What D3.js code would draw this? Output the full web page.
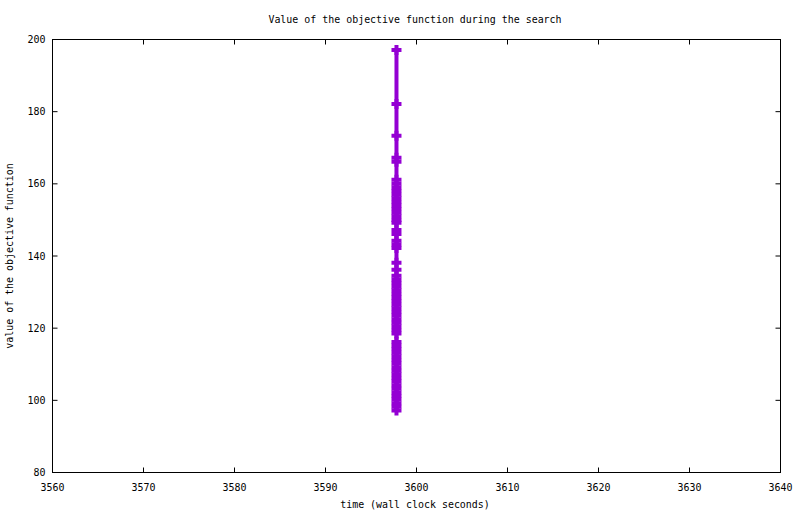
<!DOCTYPE html>
<html><head><meta charset="utf-8">
<script src="https://cdn.jsdelivr.net/npm/d3@7"></script>
<style>
body{margin:0;background:#fff}
text{font-family:"DejaVu Sans Mono",monospace;font-size:9.95px;fill:#000}
</style></head>
<body><svg id="c" width="800" height="514"></svg>
<script>
const title = "Value of the objective function during the search";
const xLabel = "time (wall clock seconds)";
const yLabel = "value of the objective function";
const xTicks = [3560,3570,3580,3590,3600,3610,3620,3630,3640];
const yTicks = [80,100,120,140,160,180,200];
const times = [3597.8,3597.8,3597.8,3597.8,3597.8,3597.8,3597.8,3597.8,3597.8,3597.8,
  3597.8,3597.8,3597.8,3597.8,3597.8,3597.8,3597.8,3597.8,3597.8,3597.8,
  3597.8,3597.8,3597.8,3597.8,3597.8,3597.8,3597.8,3597.8,3597.8,3597.8,
  3597.8,3597.8,3597.8,3597.8,3597.8,3597.8,3597.8,3597.8,3597.8,3597.8,
  3597.8,3597.8,3597.8,3597.8,3597.8,3597.8,3597.8,3597.8,3597.8,3597.8,
  3597.8,3597.8,3597.8,3597.8,3597.8,3597.8,3597.8,3597.8,3597.8,3597.8,
  3597.8,3597.8];
const values = [197.1,182.1,173.3,167.2,166.1,161.1,160,159,158,157,
  156,155,154,153,152,151,150,149.2,147.2,146.1,
  144.2,143.2,142.2,138.1,136.2,134.5,133.5,132.5,131.5,130.5,
  129.5,128.5,127.5,126.5,125.5,124.5,123.5,122.5,121.5,120.5,
  119.5,118.5,116.2,115.2,114.2,113.2,112.2,111.2,110.2,109.2,
  108.2,107.2,106.2,105.2,104.2,103.2,102.2,101.2,100.2,99.2,
  98.2,97.2];
const data = values.map((v,i)=>({t:times[i],v}));

const svg = d3.select("#c");
const L=52.5,R=780.5,T=39.5,B=472.5;
const x = d3.scaleLinear().domain([3560,3640]).range([L,R]);
const y = d3.scaleLinear().domain([80,200]).range([B,T]);

const g = svg.append("g");
xTicks.forEach(t=>{
  g.append("line").attr("x1",x(t)).attr("x2",x(t)).attr("y1",B).attr("y2",B-5).attr("stroke","#000");
  g.append("line").attr("x1",x(t)).attr("x2",x(t)).attr("y1",T).attr("y2",T+5).attr("stroke","#000");
  g.append("text").attr("x",x(t)).attr("y",B+18).attr("text-anchor","middle").text(t);
});
yTicks.forEach(t=>{
  g.append("line").attr("x1",L).attr("x2",L+5).attr("y1",y(t)).attr("y2",y(t)).attr("stroke","#000");
  g.append("line").attr("x1",R).attr("x2",R-5).attr("y1",y(t)).attr("y2",y(t)).attr("stroke","#000");
  g.append("text").attr("x",L-7).attr("y",y(t)+3.5).attr("text-anchor","end").text(t);
});
svg.append("rect").attr("x",L).attr("y",T).attr("width",R-L).attr("height",B-T)
  .attr("fill","none").attr("stroke","#000");

const col="#9400d3";
svg.append("path").datum(data)
  .attr("d",d3.line().x(d=>x(d.t)).y(d=>y(d.v)))
  .attr("fill","none").attr("stroke",col).attr("stroke-width",4);
svg.append("g").selectAll("path").data(data).join("path")
  .attr("d",d=>{const cx=x(d.t),cy=y(d.v);return `M${cx-5},${cy}H${cx+5}M${cx},${cy-5}V${cy+5}`;})
  .attr("stroke",col).attr("stroke-width",4).attr("fill","none");

svg.append("text").attr("x",415).attr("y",23).attr("text-anchor","middle").text(title);
svg.append("text").attr("x",415).attr("y",508).attr("text-anchor","middle").text(xLabel);
svg.append("text").attr("transform","translate(13,256) rotate(-90)").attr("text-anchor","middle").text(yLabel);
</script></body></html>
